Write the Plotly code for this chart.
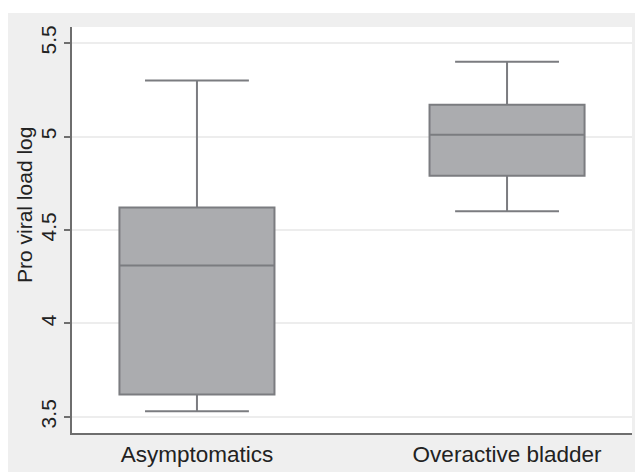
import plotly.graph_objects as go

categories = ["Asymptomatics", "Overactive bladder"]
lower_whisker = [3.53, 4.60]
q1_values = [3.62, 4.79]
median_values = [4.31, 5.01]
q3_values = [4.62, 5.17]
upper_whisker = [5.30, 5.40]
y_tick_vals = [3.5, 4, 4.5, 5, 5.5]
y_tick_text = ["3.5", "4", "4.5", "5", "5.5"]
y_title = "Pro viral load log"

FONT = "Liberation Sans, Arial, sans-serif"
TXT = "#222222"
AX = "#6e6e6e"

# The page body has an 8px margin; plot area in page pixels is x 72-632, y 27-433.
L, T = 64, 19
PW, PH = 560, 406

fig = go.Figure()
fig.add_trace(go.Box(
    x=categories,
    q1=q1_values,
    median=median_values,
    q3=q3_values,
    lowerfence=lower_whisker,
    upperfence=upper_whisker,
    boxpoints=False,
    width=0.5,
    whiskerwidth=0.67,
    fillcolor="#abacaf",
    line=dict(color="#7b7c80", width=2),
    hoverinfo="skip",
    showlegend=False,
))

fig.update_layout(
    width=643, height=472,
    margin=dict(l=L, r=643 - L - PW, t=T, b=472 - T - PH, autoexpand=False),
    paper_bgcolor="#efefef",
    plot_bgcolor="white",
    font=dict(family=FONT, color=TXT, size=21),
    xaxis=dict(
        type="category",
        range=[-0.403, 1.403],
        automargin=False,
        showline=True, linecolor=AX, linewidth=2,
        ticks="", ticklen=0, showgrid=False, zeroline=False,
        tickfont=dict(size=22.5, family=FONT, color=TXT),
    ),
    yaxis=dict(
        range=[3.414, 5.586],
        automargin=False,
        tickmode="array", tickvals=y_tick_vals, ticktext=y_tick_text,
        tickangle=-90,
        ticks="outside", ticklen=6, tickcolor=AX, tickwidth=1.5,
        showline=True, linecolor=AX, linewidth=2,
        showgrid=True, gridcolor="#ededed", gridwidth=1.5,
        zeroline=False,
        tickfont=dict(size=21, family=FONT, color=TXT),
    ),
    shapes=[
        dict(type="rect", xref="paper", yref="paper",
             x0=-0.2, x1=1.1, y0=(T + PH - 5) / PH, y1=1.2,
             fillcolor="white", line=dict(width=0), layer="below"),
    ],
    annotations=[
        dict(text=y_title, xref="paper", yref="paper",
             x=(16 - L) / PW, y=(T + PH - 197) / PH,
             xanchor="center", yanchor="middle",
             textangle=-90, showarrow=False,
             font=dict(size=21, family=FONT, color=TXT)),
    ],
)

fig.write_html("out.html")
